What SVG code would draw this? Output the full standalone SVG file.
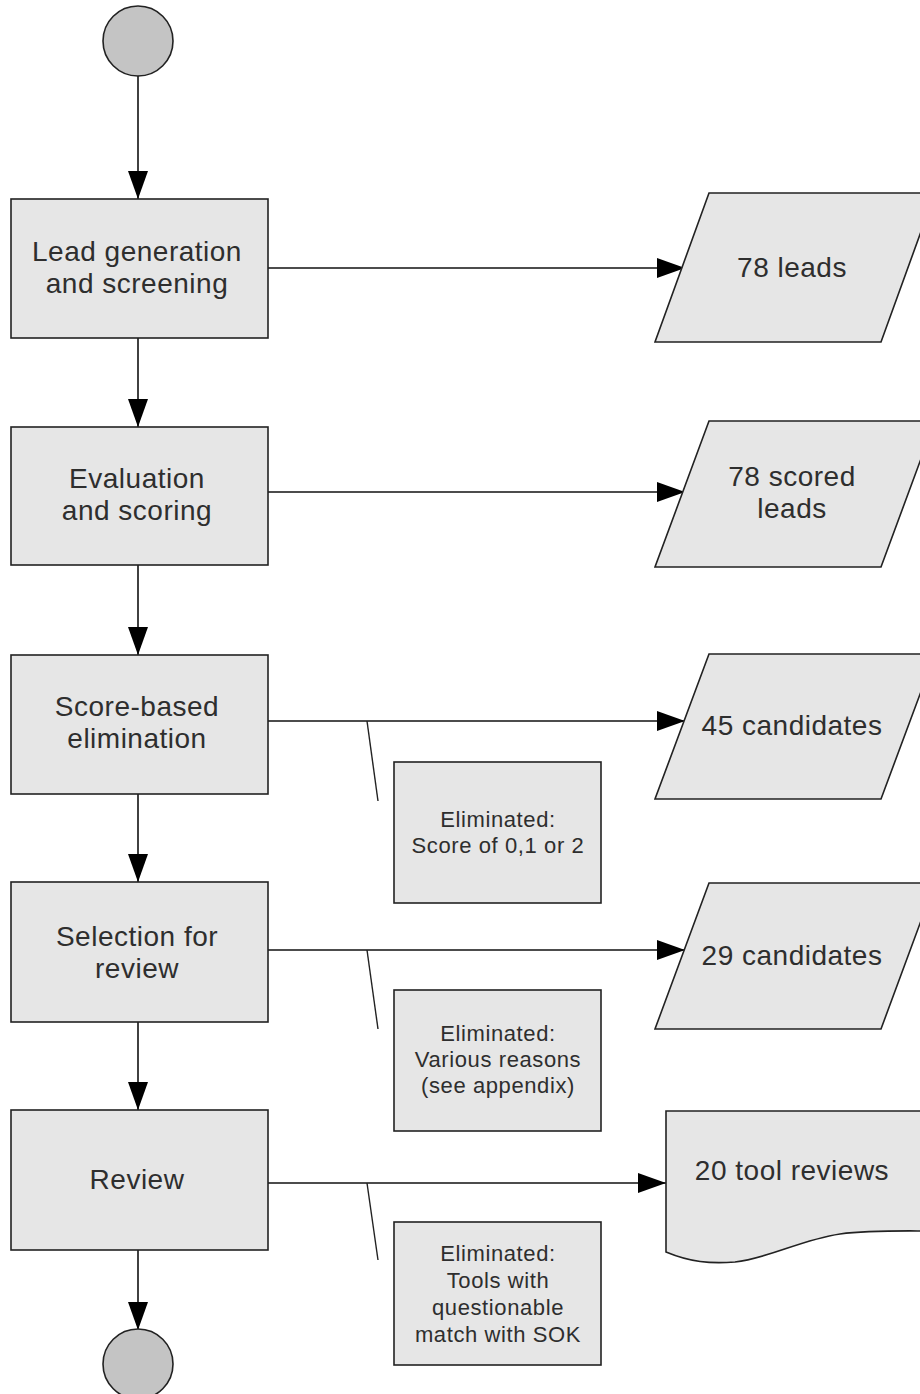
<svg xmlns="http://www.w3.org/2000/svg" width="920" height="1394" viewBox="0 0 920 1394">
<defs>
<style>
.bg{fill:#ffffff}
.proc{fill:#e6e6e6;stroke:#222;stroke-width:1.6}
.term{fill:#c4c4c4;stroke:#222;stroke-width:1.6}
.conn{fill:none;stroke:#111;stroke-width:1.6}
.call{fill:none;stroke:#222;stroke-width:1.4}
.t{font-family:"Liberation Sans",Arial,sans-serif;font-size:28px;fill:#2e2e2e;text-anchor:middle;letter-spacing:0.5px}
.s{font-family:"Liberation Sans",Arial,sans-serif;font-size:22px;fill:#2e2e2e;text-anchor:middle;letter-spacing:0.6px}
</style>
<marker id="ah" markerUnits="userSpaceOnUse" markerWidth="30" markerHeight="22" refX="28" refY="10" orient="auto">
<path d="M0,0 L28,10 L0,20 Z" fill="#000"/>
</marker>
</defs>
<rect class="bg" x="0" y="0" width="920" height="1394"/>

<g id="connectors">
<line class="conn" x1="138" y1="76" x2="138" y2="199" marker-end="url(#ah)"/>
<line class="conn" x1="138" y1="338" x2="138" y2="427" marker-end="url(#ah)"/>
<line class="conn" x1="138" y1="565" x2="138" y2="655" marker-end="url(#ah)"/>
<line class="conn" x1="138" y1="794" x2="138" y2="882" marker-end="url(#ah)"/>
<line class="conn" x1="138" y1="1022" x2="138" y2="1110" marker-end="url(#ah)"/>
<line class="conn" x1="138" y1="1250" x2="138" y2="1330" marker-end="url(#ah)"/>
<line class="conn" x1="268" y1="268" x2="685" y2="268" marker-end="url(#ah)"/>
<line class="conn" x1="268" y1="492" x2="685" y2="492" marker-end="url(#ah)"/>
<line class="conn" x1="268" y1="721" x2="685" y2="721" marker-end="url(#ah)"/>
<line class="conn" x1="268" y1="950" x2="685" y2="950" marker-end="url(#ah)"/>
<line class="conn" x1="268" y1="1183" x2="666" y2="1183" marker-end="url(#ah)"/>
<line class="call" x1="367" y1="721" x2="378" y2="801"/>
<line class="call" x1="367" y1="950" x2="378" y2="1029"/>
<line class="call" x1="367" y1="1183" x2="378" y2="1260"/>
</g>

<g id="start"><circle class="term" cx="138" cy="41" r="35"/></g>

<g id="lead-generation">
<rect class="proc" x="11" y="199" width="257" height="139"/>
<text class="t" x="137" y="261">Lead generation</text>
<text class="t" x="137" y="293">and screening</text>
</g>
<g id="evaluation">
<rect class="proc" x="11" y="427" width="257" height="138"/>
<text class="t" x="137" y="488">Evaluation</text>
<text class="t" x="137" y="520">and scoring</text>
</g>
<g id="score-elimination">
<rect class="proc" x="11" y="655" width="257" height="139"/>
<text class="t" x="137" y="716">Score-based</text>
<text class="t" x="137" y="748">elimination</text>
</g>
<g id="selection">
<rect class="proc" x="11" y="882" width="257" height="140"/>
<text class="t" x="137" y="946">Selection for</text>
<text class="t" x="137" y="978">review</text>
</g>
<g id="review">
<rect class="proc" x="11" y="1110" width="257" height="140"/>
<text class="t" x="137" y="1189">Review</text>
</g>

<g id="end"><circle class="term" cx="138" cy="1364" r="35"/></g>

<g id="leads78">
<polygon class="proc" points="709,193 935,193 881,342 655,342"/>
<text class="t" x="792" y="277">78 leads</text>
</g>
<g id="scored78">
<polygon class="proc" points="709,421 935,421 881,567 655,567"/>
<text class="t" x="792" y="486">78 scored</text>
<text class="t" x="792" y="518">leads</text>
</g>
<g id="cand45">
<polygon class="proc" points="709,654 935,654 881,799 655,799"/>
<text class="t" x="792" y="735">45 candidates</text>
</g>
<g id="cand29">
<polygon class="proc" points="709,883 935,883 881,1029 655,1029"/>
<text class="t" x="792" y="965">29 candidates</text>
</g>
<g id="reviews20">
<path class="proc" d="M666,1111 L935,1111 L935,1231 C900,1231 870,1230 840,1234 C800,1240 770,1258 735,1262 C710,1264 690,1262 666,1252 Z"/>
<text class="t" x="792" y="1180">20 tool reviews</text>
</g>

<g id="elim1">
<rect class="proc" x="394" y="762" width="207" height="141"/>
<text class="s" x="498" y="827">Eliminated:</text>
<text class="s" x="498" y="853">Score of 0,1 or 2</text>
</g>
<g id="elim2">
<rect class="proc" x="394" y="990" width="207" height="141"/>
<text class="s" x="498" y="1041">Eliminated:</text>
<text class="s" x="498" y="1067">Various reasons</text>
<text class="s" x="498" y="1093">(see appendix)</text>
</g>
<g id="elim3">
<rect class="proc" x="394" y="1222" width="207" height="143"/>
<text class="s" x="498" y="1261">Eliminated:</text>
<text class="s" x="498" y="1288">Tools with</text>
<text class="s" x="498" y="1315">questionable</text>
<text class="s" x="498" y="1342">match with SOK</text>
</g>
</svg>
